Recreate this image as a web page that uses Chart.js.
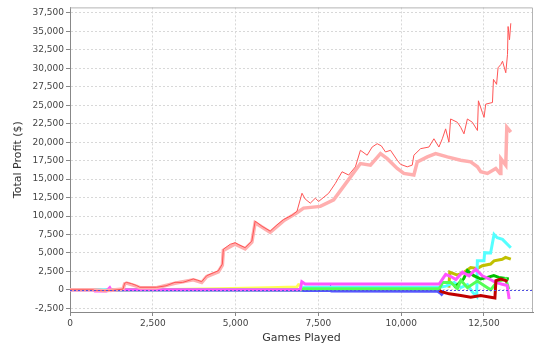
<!DOCTYPE html>
<html lang="en">
<head>
<meta charset="UTF-8">
<title>Total Profit</title>
<script src="https://cdn.jsdelivr.net/npm/chart.js"></script>
<style>
  body { margin: 0; background: #fff; }
  canvas { display: block; }
</style>
</head>
<body>
<canvas id="profitChart" width="540" height="348"></canvas>
<script>
// games played / total profit for each player line
const redGames = [0, 700, 750, 1050, 1300, 1600, 1650, 1710, 1850, 2000, 2110, 2615, 2900, 3169, 3400, 3723, 3850, 3977, 4129, 4480, 4600, 4631, 4835, 4986, 5100, 5288, 5491, 5591, 5800, 6045, 6250, 6448, 6700, 6853, 7005, 7100, 7256, 7407, 7507, 7810, 8013, 8215, 8415, 8618, 8769, 8972, 9123, 9275, 9400, 9526, 9677, 9880, 9980, 10183, 10334, 10383, 10586, 10837, 10988, 11139, 11242, 11342, 11442, 11493, 11696, 11796, 11896, 11999, 12150, 12302, 12332, 12450, 12502, 12553, 12756, 12786, 12880, 12925, 13010, 13060, 13158, 13210, 13228, 13270, 13310];
const redProfit = [0, 0, -100, -120, -60, 100, 900, 1000, 850, 600, 350, 350, 550, 1020, 1000, 1470, 1300, 1110, 1920, 2590, 3490, 5500, 6170, 6380, 6100, 5710, 6610, 9290, 8600, 7950, 8800, 9520, 10100, 10630, 13080, 12300, 11740, 12410, 11970, 13080, 14420, 15990, 15550, 16660, 18900, 18230, 19340, 19790, 19500, 18670, 18900, 17560, 17000, 16660, 16890, 18230, 19120, 19340, 20460, 19340, 20460, 21800, 20000, 23140, 22690, 22020, 21130, 23140, 22690, 21580, 25600, 24030, 23360, 25150, 25370, 28500, 27830, 30070, 30520, 30960, 29400, 31850, 35660, 33860, 36100];

const pinkGames = [0, 700, 1050, 1600, 1650, 1710, 2000, 2110, 2615, 3169, 3723, 3977, 4129, 4480, 4600, 4631, 4986, 5288, 5491, 5591, 6045, 6448, 6853, 7053, 7558, 7961, 8367, 8769, 9072, 9375, 9578, 9880, 10080, 10383, 10486, 10788, 11040, 11393, 11796, 12099, 12302, 12402, 12605, 12856, 12986, 13010, 13158, 13189, 13310];
const pinkProfit = [0, 0, -120, 100, 800, 900, 500, 300, 300, 900, 1350, 1000, 1800, 2450, 3350, 5350, 6200, 5550, 6450, 9100, 7800, 9350, 10450, 11070, 11300, 12200, 14650, 17100, 16890, 18450, 17770, 16440, 15770, 15550, 17330, 18000, 18450, 18000, 17560, 17330, 16660, 15990, 15770, 16440, 15770, 17770, 16890, 22020, 21350];

const blueGames = [0, 700, 1000, 1300, 7000, 7850, 7870, 7900, 11100, 11200, 11250];
const blueProfit = [0, 0, -100, 0, -100, -100, 200, -150, -200, -500, -750];

const greenGames = [1200, 7000, 7050, 11150, 11250, 11500, 11700, 11800, 12000, 12300, 12500, 12700, 12900, 13150, 13250];
const greenProfit = [0, 0, 150, 150, 1000, 1000, 200, 1300, 300, 1200, 600, 0, 1100, 1500, 100];

const yellowGames = [1600, 3000, 4500, 6000, 6850, 6900, 7000];
const yellowProfit = [0, 50, 150, 300, 400, 700, 600];

const magentaGames = [0, 700, 750, 1100, 1200, 1250, 1350, 6950, 7000, 7100, 11150, 11342, 11500, 11650, 11850, 12050, 12250, 12450, 12650, 12850, 13050, 13200, 13260];
const magentaProfit = [0, 0, -150, -150, 300, -100, 0, 0, 1100, 800, 800, 2100, 1800, 1400, 2400, 1900, 2800, 1900, 1500, 1000, 750, 600, -1260];

const cyanGames = [700, 1200, 7000, 7050, 11150, 11350, 11600, 11800, 12000, 12150, 12280, 12300, 12500, 12520, 12700, 12804, 12900, 13060, 13310];
const cyanProfit = [0, 0, 0, 350, 350, 500, 1000, 300, 700, -300, -900, 3930, 3930, 5040, 5000, 7500, 7050, 6840, 5710];

const darkRedGames = [11150, 11250, 11450, 11800, 12100, 12400, 12700, 12830, 12860, 13010, 13160, 13200];
const darkRedProfit = [-100, -300, -540, -760, -990, -760, -990, -1100, 1250, 1470, 1250, 1100];

const darkGreenGames = [11600, 11736, 11888, 12000, 12190, 12402, 12605, 12796, 12948, 13250];
const darkGreenProfit = [300, 840, 1510, 2590, 1920, 1470, 1690, 1920, 1690, 1470];

const oliveGames = [11440, 11466, 11700, 11888, 12099, 12300, 12450, 12700, 12804, 13050, 13150, 13310];
const oliveProfit = [300, 2400, 2000, 2360, 3030, 2900, 3260, 3500, 3930, 4150, 4400, 4150];

const xTicks = [0, 2500, 5000, 7500, 10000, 12500];
const yTicks = [-2500, 0, 2500, 5000, 7500, 10000, 12500, 15000, 17500, 20000, 22500, 25000, 27500, 30000, 32500, 35000, 37500];

function points(games, profit) {
  return games.map((g, i) => ({ x: g, y: profit[i] }));
}

function line(games, profit, color, width, order) {
  return {
    data: points(games, profit),
    borderColor: color,
    borderWidth: width,
    pointRadius: 0,
    tension: 0,
    fill: false,
    order: order
  };
}

// top and right plot outline + dotted zero line
const plotExtras = {
  id: 'plotExtras',
  beforeDatasetsDraw(chart) {
    const { ctx, chartArea: a } = chart;
    ctx.save();
    ctx.strokeStyle = '#b4b4b4';
    ctx.lineWidth = 1;
    ctx.beginPath();
    ctx.moveTo(a.left, a.top + 0.5);
    ctx.lineTo(a.right - 0.5, a.top + 0.5);
    ctx.lineTo(a.right - 0.5, a.bottom);
    ctx.stroke();
    ctx.restore();
  },
  afterDatasetsDraw(chart) {
    const { ctx, chartArea: a, scales } = chart;
    const y = Math.round(scales.y.getPixelForValue(0)) + 0.5;
    ctx.save();
    ctx.strokeStyle = '#5050e0';
    ctx.lineWidth = 1;
    ctx.setLineDash([2, 2]);
    ctx.beginPath();
    ctx.moveTo(a.left, y);
    ctx.lineTo(a.right, y);
    ctx.stroke();
    ctx.restore();
  }
};

const tickFont = { family: 'DejaVu Sans', size: 9 };
const titleFont = { family: 'DejaVu Sans', size: 11 };

new Chart(document.getElementById('profitChart'), {
  type: 'line',
  data: {
    datasets: [
      line(redGames, redProfit, '#ff5555', 1, 0),
      line(pinkGames, pinkProfit, '#ffafaf', 3.5, 1),
      line(darkRedGames, darkRedProfit, '#c00000', 3, 2),
      line(magentaGames, magentaProfit, '#ff55ff', 3, 3),
      line(greenGames, greenProfit, '#55ff55', 3, 4),
      line(darkGreenGames, darkGreenProfit, '#00c000', 3, 5),
      line(cyanGames, cyanProfit, '#55ffff', 3, 6),
      line(oliveGames, oliveProfit, '#c0c000', 3, 7),
      line(yellowGames, yellowProfit, '#ffff55', 3, 8),
      line(blueGames, blueProfit, '#5555ff', 3, 9)
    ]
  },
  options: {
    responsive: false,
    animation: false,
    layout: { padding: { top: 4, right: 7, left: 0, bottom: 0 } },
    plugins: {
      legend: { display: false },
      tooltip: { enabled: false }
    },
    scales: {
      x: {
        type: 'linear',
        min: 0,
        max: 13980,
        afterBuildTicks: (s) => { s.ticks = xTicks.map(v => ({ value: v })); },
        afterFit: (s) => { s.height = 36; },
        ticks: {
          font: tickFont,
          color: '#444',
          padding: 2,
          maxRotation: 0,
          autoSkip: false,
          callback: (v) => v.toLocaleString('en-US')
        },
        grid: {
          color: '#d8d8d8',
          tickColor: '#888',
          tickLength: 4,
          tickBorderDash: []
        },
        border: { color: '#888', dash: [2, 2] },
        title: {
          display: true,
          text: 'Games Played',
          font: titleFont,
          color: '#333',
          padding: { top: 0, bottom: 3 }
        }
      },
      y: {
        min: -3000,
        max: 38250,
        afterBuildTicks: (s) => { s.ticks = yTicks.map(v => ({ value: v })); },
        afterFit: (s) => { s.width = 70; },
        ticks: {
          font: tickFont,
          color: '#444',
          padding: 2,
          autoSkip: false,
          callback: (v) => v.toLocaleString('en-US')
        },
        grid: {
          color: '#d8d8d8',
          tickColor: '#888',
          tickLength: 4,
          tickBorderDash: []
        },
        border: { color: '#888', dash: [2, 2] },
        title: {
          display: true,
          text: 'Total Profit ($)',
          font: titleFont,
          color: '#333',
          padding: { top: 12, bottom: 0 }
        }
      }
    }
  },
  plugins: [plotExtras]
});
</script>
</body>
</html>
